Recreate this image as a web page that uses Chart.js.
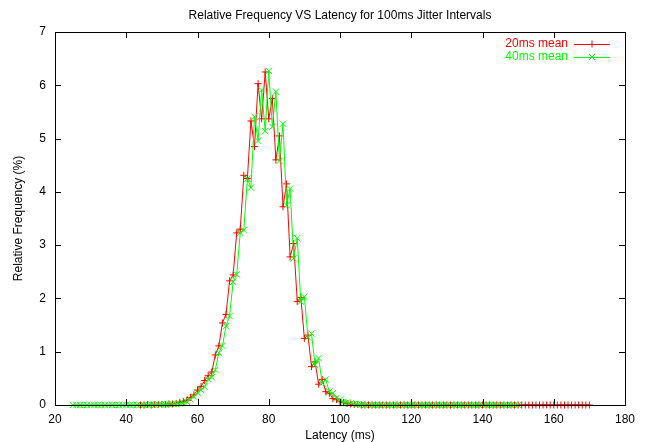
<!DOCTYPE html>
<html>
<head>
<meta charset="utf-8">
<script src="https://cdn.jsdelivr.net/npm/chart.js@4/dist/chart.umd.min.js"></script>
<style>
  html, body { margin: 0; padding: 0; background: #fff; }
  canvas { display: block; }
</style>
</head>
<body>
<canvas id="latChart" width="646" height="442"></canvas>
<script>
const FONT = '"Liberation Sans", Arial, Helvetica, sans-serif';

const titleText = 'Relative Frequency VS Latency for 100ms Jitter Intervals';
const xLabel = 'Latency (ms)';
const yLabel = 'Relative Frequency (%)';
const seriesNames = ['20ms mean', '40ms mean'];

// 1 ms bins, latency of the first bin in each series
const start20 = 44;
const start40 = 25;

// relative frequency (%) per bin
const mean20 = [
  0, 0, 0.01, 0, 0.01, 0.01,                                    // 44-49
  0.01, 0.01, 0.02, 0.02, 0.03, 0.05, 0.07, 0.09, 0.14, 0.19,  // 50-59
  0.28, 0.35, 0.46, 0.55, 0.62, 0.94, 1.11, 1.54, 1.70, 2.33,  // 60-69
  2.44, 3.23, 3.30, 4.31, 4.25, 5.33, 4.85, 6.03, 5.37, 6.25,  // 70-79
  5.37, 5.75, 4.60, 5.05, 3.72, 4.15, 2.78, 3.03, 1.94, 2.02,  // 80-89
  1.25, 1.31, 0.72, 0.81, 0.39, 0.48, 0.25, 0.22, 0.12, 0.10,  // 90-99
  0.06, 0.05, 0.03, 0.02, 0.01, 0.01, 0, 0, 0, 0,              // 100-109
  0, 0, 0, 0, 0, 0, 0, 0, 0, 0,                                // 110-119
  0, 0, 0, 0, 0, 0, 0, 0, 0, 0,                                // 120-129
  0, 0, 0, 0, 0, 0, 0, 0, 0, 0,                                // 130-139
  0, 0, 0, 0, 0, 0, 0, 0, 0, 0,                                // 140-149
  0, 0, 0, 0, 0, 0, 0, 0, 0, 0,                                // 150-159
  0, 0, 0, 0, 0, 0, 0, 0, 0, 0,                                // 160-169
  0                                                            // 170
];

const mean40 = [
  0, 0, 0, 0, 0,                                               // 25-29
  0, 0, 0, 0, 0, 0, 0, 0, 0, 0,                                // 30-39
  0, 0, 0, 0, 0, 0, 0, 0.01, 0, 0.01,                          // 40-49
  0.01, 0.01, 0.01, 0.02, 0.02, 0.03, 0.04, 0.06, 0.11, 0.16,  // 50-59
  0.23, 0.28, 0.34, 0.48, 0.52, 0.66, 0.98, 1.11, 1.48, 1.67,  // 60-69
  2.31, 2.45, 3.23, 3.28, 4.25, 4.08, 5.41, 4.96, 5.91, 5.14,  // 70-79
  6.27, 5.22, 5.88, 4.58, 5.28, 3.75, 4.06, 2.75, 3.13, 1.94,  // 80-89
  2.03, 1.27, 1.34, 0.75, 0.88, 0.41, 0.48, 0.25, 0.22, 0.13,  // 90-99
  0.10, 0.06, 0.05, 0.03, 0.02, 0.01, 0.01, 0, 0, 0,           // 100-109
  0, 0, 0, 0, 0, 0, 0, 0, 0, 0,                                // 110-119
  0, 0, 0, 0, 0, 0, 0, 0, 0, 0,                                // 120-129
  0, 0, 0, 0, 0, 0, 0, 0, 0, 0,                                // 130-139
  0, 0, 0, 0, 0, 0, 0, 0, 0, 0,                                // 140-149
  0                                                            // 150
];

const xTicks = [20, 40, 60, 80, 100, 120, 140, 160, 180];
const yTicks = [0, 1, 2, 3, 4, 5, 6, 7];

const colors = ['#ff0000', '#00ff00'];

const toPoints = (vals, start) => vals.map((v, i) => ({ x: start + i, y: v }));

// gnuplot look: box border, inward tics on all sides, title and key
const gnuplotFrame = {
  id: 'gnuplotFrame',
  afterDatasetsDraw(chart) {
    const { ctx, chartArea: a, scales: { x, y } } = chart;
    const tic = 6;
    ctx.save();
    ctx.strokeStyle = '#000';
    ctx.lineWidth = 1;
    ctx.beginPath();
    xTicks.forEach(v => {
      const px = Math.round(x.getPixelForValue(v)) + 0.5;
      ctx.moveTo(px, a.bottom); ctx.lineTo(px, a.bottom - tic);
      ctx.moveTo(px, a.top); ctx.lineTo(px, a.top + tic);
    });
    yTicks.forEach(v => {
      const py = Math.round(y.getPixelForValue(v)) + 0.5;
      ctx.moveTo(a.left, py); ctx.lineTo(a.left + tic, py);
      ctx.moveTo(a.right, py); ctx.lineTo(a.right - tic, py);
    });
    ctx.stroke();
    ctx.strokeRect(a.left + 0.5, a.top + 0.5, a.right - a.left, a.bottom - a.top);

    ctx.font = '12px ' + FONT;
    ctx.fillStyle = '#000';
    ctx.textAlign = 'center';
    ctx.textBaseline = 'middle';
    ctx.fillText(titleText, (a.left + a.right) / 2, 15.5);

    // key
    ctx.textAlign = 'right';
    seriesNames.forEach((name, i) => {
      const ky = a.top + 12 + i * 13;
      const x0 = a.right - 51, x1 = a.right - 15, xm = (x0 + x1) / 2;
      ctx.fillStyle = colors[i];
      ctx.strokeStyle = colors[i];
      ctx.fillText(name, a.right - 57, ky);
      ctx.beginPath();
      ctx.moveTo(x0, ky + 0.5); ctx.lineTo(x1, ky + 0.5);
      if (i === 0) {
        ctx.moveTo(xm, ky - 3.5); ctx.lineTo(xm, ky + 3.5);
      } else {
        ctx.moveTo(xm - 3, ky - 3); ctx.lineTo(xm + 3, ky + 3);
        ctx.moveTo(xm - 3, ky + 3); ctx.lineTo(xm + 3, ky - 3);
      }
      ctx.stroke();
    });
    ctx.restore();
  }
};

new Chart(document.getElementById('latChart'), {
  type: 'line',
  data: {
    datasets: [
      {
        label: seriesNames[0],
        data: toPoints(mean20, start20),
        borderColor: colors[0],
        backgroundColor: colors[0],
        borderWidth: 1,
        pointStyle: 'cross',
        pointRadius: 3.5,
        pointBorderWidth: 1,
        tension: 0,
        fill: false,
        clip: false,
        order: 2
      },
      {
        label: seriesNames[1],
        data: toPoints(mean40, start40),
        borderColor: colors[1],
        backgroundColor: colors[1],
        borderWidth: 1,
        pointStyle: 'crossRot',
        pointRadius: 4.5,
        pointBorderWidth: 1,
        tension: 0,
        fill: false,
        clip: false,
        order: 1
      }
    ]
  },
  options: {
    responsive: false,
    animation: false,
    devicePixelRatio: 1,
    layout: { padding: { top: 32, right: 21, left: 0, bottom: 0 } },
    plugins: {
      legend: { display: false },
      tooltip: { enabled: false }
    },
    scales: {
      x: {
        type: 'linear',
        min: 20,
        max: 180,
        afterBuildTicks: s => { s.ticks = xTicks.map(v => ({ value: v })); },
        afterFit: s => { s.height = 37; },
        grid: { display: false, drawTicks: false },
        border: { display: false },
        ticks: { color: '#000', padding: 7, font: { family: FONT, size: 12 } },
        title: {
          display: true,
          text: xLabel,
          color: '#000',
          padding: 0,
          font: { family: FONT, size: 12, lineHeight: 1 }
        }
      },
      y: {
        min: 0,
        max: 7,
        afterBuildTicks: s => { s.ticks = yTicks.map(v => ({ value: v })); },
        afterFit: s => { s.width = 55; },
        grid: { display: false, drawTicks: false },
        border: { display: false },
        ticks: { color: '#000', padding: 9, font: { family: FONT, size: 12 } },
        title: {
          display: true,
          text: yLabel,
          color: '#000',
          padding: { top: 13, bottom: 0 },
          font: { family: FONT, size: 12, lineHeight: 1 }
        }
      }
    }
  },
  plugins: [gnuplotFrame]
});
</script>
</body>
</html>
